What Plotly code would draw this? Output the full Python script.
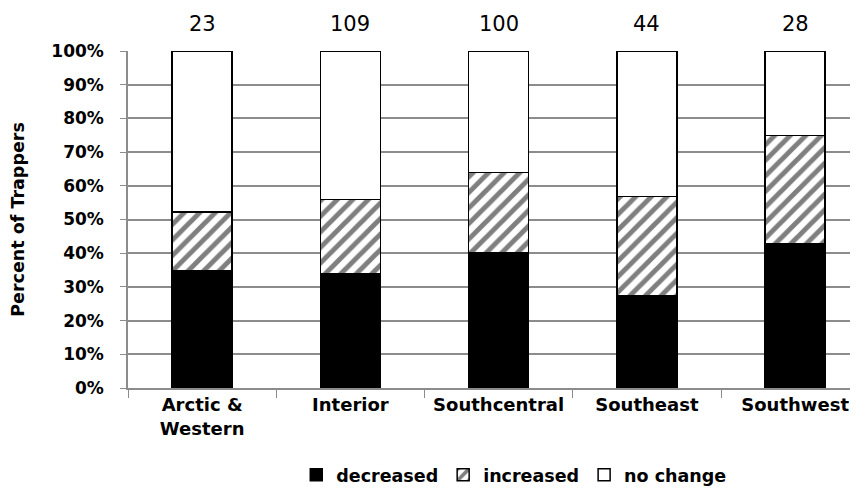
import plotly.graph_objects as go

categories = ["Arctic &<br>Western", "Interior", "Southcentral", "Southeast", "Southwest"]
sample_sizes = [23, 109, 100, 44, 28]
decreased = [34.8, 33.9, 40.0, 27.3, 42.9]
increased = [17.4, 22.0, 24.0, 29.5, 32.1]
no_change = [100 - d - i for d, i in zip(decreased, increased)]

FONT = "DejaVu Sans"
line = dict(color="black", width=1.5)

fig = go.Figure()
fig.add_bar(x=categories, y=decreased, name="decreased",
            marker=dict(color="black", line=line))
fig.add_bar(x=categories, y=increased, name="increased",
            marker=dict(color="white", line=line,
                        pattern=dict(shape="/", fgcolor="black", bgcolor="white",
                                     size=11, solidity=0.45)))
fig.add_bar(x=categories, y=no_change, name="no change",
            marker=dict(color="white", line=line))

for c, n in zip(categories, sample_sizes):
    fig.add_annotation(x=c, y=1.0, yref="paper", yshift=13, text=str(n),
                       showarrow=False, yanchor="bottom",
                       font=dict(family=FONT, size=21, color="black"))

fig.update_layout(
    barmode="stack",
    bargap=0.595,
    width=862, height=489,
    margin=dict(l=120, r=20, t=43, b=109, autoexpand=False),
    paper_bgcolor="white", plot_bgcolor="white",
    font=dict(family=FONT, size=16, color="black"),
    legend=dict(orientation="h", x=0.535, xanchor="center", y=-0.258, yanchor="middle",
                font=dict(family=FONT, size=17.5, color="black", weight="bold"),
                traceorder="normal", itemwidth=30),
    showlegend=True,
)
fig.update_yaxes(range=[0, 100], tickvals=list(range(0, 101, 10)),
                 ticktext=[f"{v}%" for v in range(0, 101, 10)],
                 showgrid=True, gridcolor="#8c8c8c", gridwidth=1.5,
                 showline=True, linecolor="#8c8c8c", linewidth=1.5,
                 ticks="outside", ticklen=6, tickcolor="#8c8c8c",
                 ticklabelstandoff=13,
                 tickfont=dict(family=FONT, size=17, weight="bold"),
                 title=dict(text="Percent of Trappers", standoff=22,
                            font=dict(family=FONT, size=17.5, weight="bold")),
                 zeroline=False)
fig.update_xaxes(range=[-0.5, 4.37],
                 showline=True, linecolor="#8c8c8c", linewidth=1.5,
                 ticks="outside", tickson="boundaries", ticklen=8, tickcolor="#8c8c8c",
                 tickfont=dict(family=FONT, size=18, weight="bold"))

fig.write_html("out.html")
